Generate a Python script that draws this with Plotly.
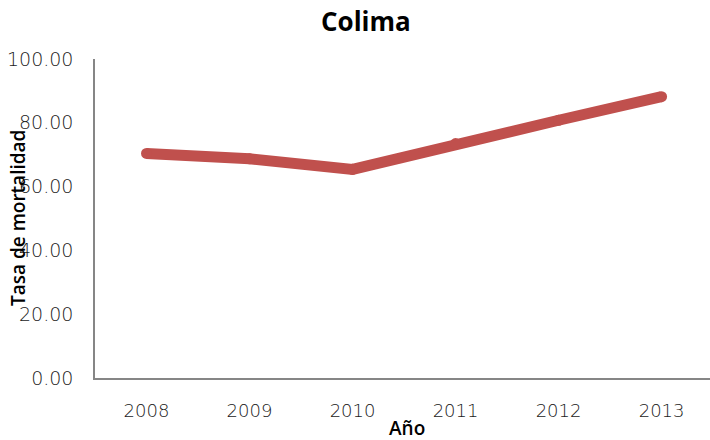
import plotly.graph_objects as go

years = ["2008", "2009", "2010", "2011", "2012", "2013"]
tasa = [70.4, 68.7, 65.4, 73.5, 80.8, 88.2]
y_ticks = [0, 20, 40, 60, 80, 100]
y_tick_labels = ["0.00", "20.00", "40.00", "60.00", "80.00", "100.00"]

W, H = 710, 440
ml, mr, mt, mb = 95, 0, 59, 440 - 378
pw = W - ml - mr
ph = H - mt - mb

def px_x(x):
    return (x - ml) / pw

def px_y(y):
    return 1 - (y - mt) / ph

tick_font = dict(family="DejaVu Sans ExtraLight, DejaVu Sans Light, DejaVu Sans", size=18, color="#1a1a1a", weight=200)

fig = go.Figure()
fig.add_trace(go.Scatter(
    x=years, y=tasa, mode="lines+markers",
    line=dict(color="#C0504D", width=11),
    marker=dict(color="#C0504D", size=11, line=dict(width=0)),
    hoverinfo="skip", showlegend=False,
))

fig.update_layout(
    width=W, height=H,
    margin=dict(l=ml, r=mr, t=mt, b=mb, autoexpand=False),
    paper_bgcolor="white", plot_bgcolor="white",
    showlegend=False,
    xaxis=dict(
        type="category", range=[-0.5, 5.47],
        showgrid=False, zeroline=False,
        showline=True, linecolor="#868686", linewidth=1.5,
        ticks="", ticklabelstandoff=16, automargin=False,
        tickfont=tick_font,
    ),
    yaxis=dict(
        range=[0, 100], tickvals=y_ticks, ticktext=y_tick_labels,
        showgrid=False, zeroline=False,
        showline=True, linecolor="#868686", linewidth=1.5,
        ticks="", ticklabelstandoff=16, automargin=False,
        tickfont=dict(tick_font, size=19),
    ),
    annotations=[
        dict(text="<b>Colima</b>", xref="paper", yref="paper",
             x=px_x(366), y=px_y(21), xanchor="center", yanchor="middle",
             showarrow=False, font=dict(family="Open Sans", size=26, color="black")),
        dict(text="Tasa de mortalidad", xref="paper", yref="paper",
             x=px_x(18), y=px_y(218), xanchor="center", yanchor="middle", textangle=-90,
             showarrow=False, font=dict(family="Open Sans", size=19, color="black", weight=600)),
        dict(text="Año", xref="paper", yref="paper",
             x=px_x(407), y=px_y(428), xanchor="center", yanchor="middle",
             showarrow=False, font=dict(family="Open Sans", size=19, color="black", weight=600)),
    ],
)

fig.write_html(
    "out.html",
    config={"displayModeBar": False},
    post_script="document.body.style.margin='0';document.body.style.overflow='hidden';",
)
